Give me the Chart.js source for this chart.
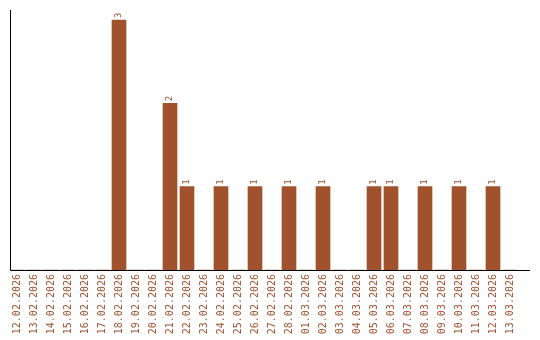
<!DOCTYPE html>
<html>
<head>
<meta charset="utf-8">
<script src="https://cdn.jsdelivr.net/npm/chart.js@4/dist/chart.umd.min.js"></script>
<style>
  html, body { margin: 0; padding: 0; background: #fff; }
  #wrap { width: 540px; height: 340px; }
</style>
</head>
<body>
<div id="wrap"><canvas id="barChart"></canvas></div>
<script>
const dates = [
    '12.02.2026', '13.02.2026', '14.02.2026', '15.02.2026', '16.02.2026',
    '17.02.2026', '18.02.2026', '19.02.2026', '20.02.2026', '21.02.2026',
    '22.02.2026', '23.02.2026', '24.02.2026', '25.02.2026', '26.02.2026',
    '27.02.2026', '28.02.2026', '01.03.2026', '02.03.2026', '03.03.2026',
    '04.03.2026', '05.03.2026', '06.03.2026', '07.03.2026', '08.03.2026',
    '09.03.2026', '10.03.2026', '11.03.2026', '12.03.2026', '13.03.2026'
];
const counts = [
    0, 0, 0, 0, 0,
    0, 3, 0, 0, 2,
    1, 0, 1, 0, 1,
    0, 1, 0, 1, 0,
    0, 1, 1, 0, 1,
    0, 1, 0, 1, 0
];

const barColor = '#A0522D';
const monoFont = 'DejaVu Sans Mono';

// value labels above the bars, rotated like the dates
const valueLabels = {
    id: 'valueLabels',
    afterDatasetsDraw(chart) {
        const ctx = chart.ctx;
        const meta = chart.getDatasetMeta(0);
        ctx.save();
        ctx.fillStyle = barColor;
        ctx.font = '9px ' + monoFont;
        ctx.textAlign = 'left';
        ctx.textBaseline = 'middle';
        meta.data.forEach(function(bar, i) {
            if (!counts[i]) return;
            ctx.save();
            ctx.translate(bar.x, bar.y - 2);
            ctx.rotate(-Math.PI / 2);
            ctx.fillText(String(counts[i]), 0, 0);
            ctx.restore();
        });
        ctx.restore();
    }
};

// axis lines: left one a bit inside the first category, bottom one running past the last
const axisLines = {
    id: 'axisLines',
    afterDraw(chart) {
        const ctx = chart.ctx;
        const area = chart.chartArea;
        ctx.save();
        ctx.strokeStyle = '#000';
        ctx.lineWidth = 1;
        ctx.beginPath();
        ctx.moveTo(10.5, area.top);
        ctx.lineTo(10.5, area.bottom + 0.5);
        ctx.lineTo(530, area.bottom + 0.5);
        ctx.stroke();
        ctx.restore();
    }
};

const ctx = document.getElementById('barChart').getContext('2d');
new Chart(ctx, {
    type: 'bar',
    data: {
        labels: dates,
        datasets: [{
            data: counts,
            backgroundColor: barColor,
            borderWidth: 0,
            barThickness: 14
        }]
    },
    options: {
        responsive: true,
        maintainAspectRatio: false,
        animation: false,
        events: [],
        layout: {
            padding: { left: 8.5, right: 21.5, top: 10, bottom: 0 }
        },
        plugins: {
            legend: { display: false },
            tooltip: { enabled: false }
        },
        scales: {
            x: {
                grid: { display: false },
                border: { display: false },
                afterFit: function(scale) { scale.height = 70; },
                ticks: {
                    color: barColor,
                    autoSkip: false,
                    minRotation: 90,
                    maxRotation: 90,
                    padding: -4,
                    font: { family: monoFont, size: 10 }
                }
            },
            y: {
                display: false,
                min: 0,
                max: 3.12
            }
        }
    },
    plugins: [valueLabels, axisLines]
});
</script>
</body>
</html>
